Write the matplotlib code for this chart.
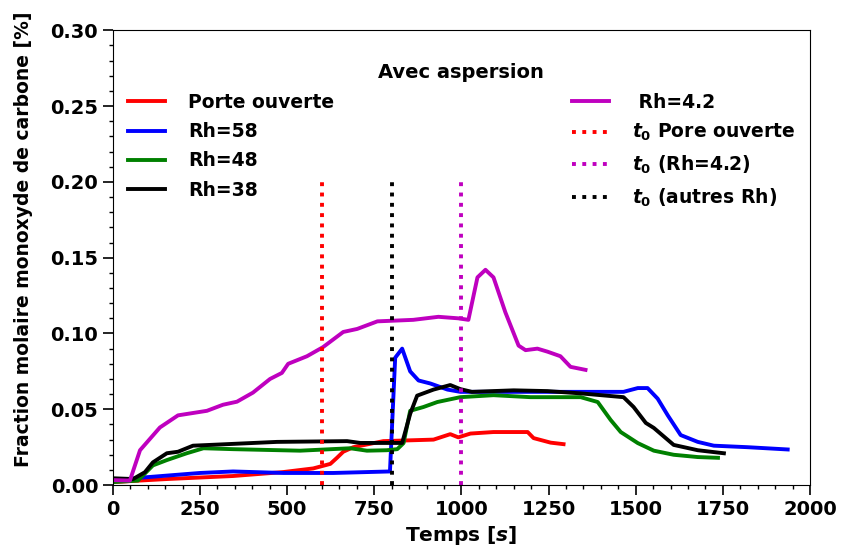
import matplotlib
matplotlib.use("Agg")
import matplotlib.pyplot as plt
from matplotlib.ticker import MultipleLocator, FormatStrFormatter

# Porte ouverte (red)
porte_t = [0, 155, 345, 489, 575, 624, 643, 661, 690, 776, 920, 968, 991, 1026, 1092, 1190, 1207, 1256, 1293]
porte_y = [0.002, 0.004, 0.006, 0.0086, 0.011, 0.014, 0.018, 0.022, 0.025, 0.029, 0.030, 0.0336, 0.0315, 0.034,
           0.035, 0.035, 0.031, 0.028, 0.027]

# Rh=58 (blue)
rh58_t = [0, 86, 250, 345, 489, 632, 795, 810, 830, 853, 877, 911, 960, 997, 1150, 1465, 1506, 1534, 1563, 1592,
          1629, 1678, 1724, 1821, 1936]
rh58_y = [0.003, 0.005, 0.008, 0.009, 0.008, 0.008, 0.009, 0.084, 0.090, 0.075, 0.069, 0.067, 0.063, 0.0615,
          0.0615, 0.0615, 0.064, 0.064, 0.057, 0.046, 0.033, 0.0285, 0.026, 0.025, 0.0235]

# Rh=48 (green)
rh48_t = [0, 72, 115, 155, 212, 260, 345, 537, 681, 729, 786, 816, 834, 853, 891, 931, 997, 1092, 1198, 1342,
          1391, 1428, 1457, 1506, 1552, 1609, 1678, 1736]
rh48_y = [0.002, 0.003, 0.013, 0.0165, 0.021, 0.0243, 0.0237, 0.0227, 0.0243, 0.0227, 0.023, 0.0237, 0.0277,
          0.049, 0.0515, 0.0548, 0.058, 0.0593, 0.058, 0.058, 0.0548, 0.043, 0.035, 0.0277, 0.0227, 0.020, 0.0185,
          0.018]

# Rh=38 (black)
rh38_t = [0, 58, 92, 115, 155, 187, 230, 327, 471, 672, 710, 830, 853, 873, 920, 968, 997, 1030, 1150, 1247,
          1342, 1465, 1494, 1529, 1552, 1609, 1678, 1753]
rh38_y = [0.0045, 0.004, 0.0085, 0.015, 0.021, 0.022, 0.026, 0.027, 0.0285, 0.029, 0.0278, 0.0278, 0.047, 0.059,
          0.063, 0.066, 0.0633, 0.0615, 0.0625, 0.062, 0.0605, 0.058, 0.0515, 0.041, 0.0377, 0.0265, 0.023, 0.021]

# Rh=4.2 (magenta)
rh42_t = [0, 49, 78, 135, 187, 270, 316, 356, 402, 451, 485, 503, 557, 603, 661, 701, 759, 862, 934, 991, 1020,
          1046, 1069, 1092, 1126, 1164, 1184, 1218, 1247, 1284, 1313, 1356]
rh42_y = [0.0033, 0.003, 0.023, 0.038, 0.046, 0.049, 0.053, 0.055, 0.061, 0.070, 0.074, 0.080, 0.085, 0.091,
          0.101, 0.103, 0.108, 0.109, 0.111, 0.110, 0.109, 0.137, 0.142, 0.137, 0.114, 0.092, 0.089, 0.090, 0.088,
          0.085, 0.078, 0.076]

t0_porte = 600
t0_rh42 = 1000
t0_autres = 800

plt.rcParams["font.weight"] = "bold"
plt.rcParams["axes.labelweight"] = "bold"

fig = plt.figure(figsize=(8.42, 5.5), dpi=100)
ax = fig.add_axes([0.134, 0.118, 0.828, 0.827])

lw = 2.8
ax.plot(porte_t, porte_y, color="red", lw=lw, label="Porte ouverte")
ax.plot(rh58_t, rh58_y, color="blue", lw=lw, label="Rh=58")
ax.plot(rh48_t, rh48_y, color="green", lw=lw, label="Rh=48")
ax.plot(rh38_t, rh38_y, color="black", lw=lw, label="Rh=38")
ax.plot(rh42_t, rh42_y, color="m", lw=lw, label=" Rh=4.2")
ax.plot([t0_porte, t0_porte], [0, 0.2], color="red", lw=lw, ls=":", label="$t_0$ Pore ouverte")
ax.plot([t0_rh42, t0_rh42], [0, 0.2], color="m", lw=lw, ls=":", label="$t_0$ (Rh=4.2)")
ax.plot([t0_autres, t0_autres], [0, 0.2], color="black", lw=lw, ls=":", label="$t_0$ (autres Rh)")

ax.set_xlim(0, 2000)
ax.set_ylim(0, 0.30)
ax.xaxis.set_major_locator(MultipleLocator(250))
ax.xaxis.set_minor_locator(MultipleLocator(50))
ax.yaxis.set_major_locator(MultipleLocator(0.05))
ax.yaxis.set_minor_locator(MultipleLocator(0.01))
ax.yaxis.set_major_formatter(FormatStrFormatter("%.2f"))
ax.tick_params(which="major", length=7, width=1.2, labelsize=14)
ax.tick_params(which="minor", length=3, width=1)

ax.set_xlabel("Temps [$s$]", fontsize=14.5)
ax.set_ylabel("Fraction molaire monoxyde de carbone [%]", fontsize=13.5)
ax.yaxis.set_label_coords(-0.115, 0.54)

leg = ax.legend(loc="upper center", ncol=2, frameon=False, mode="expand",
                bbox_to_anchor=(0.0, 0.6, 1.0, 0.36), fontsize=13.5,
                title="Avec aspersion", title_fontproperties={"weight": "bold", "size": 14},
                labelspacing=0.55, handlelength=2.0, handletextpad=1.2, borderpad=0.3)

fig.savefig("out.png", dpi=100)
